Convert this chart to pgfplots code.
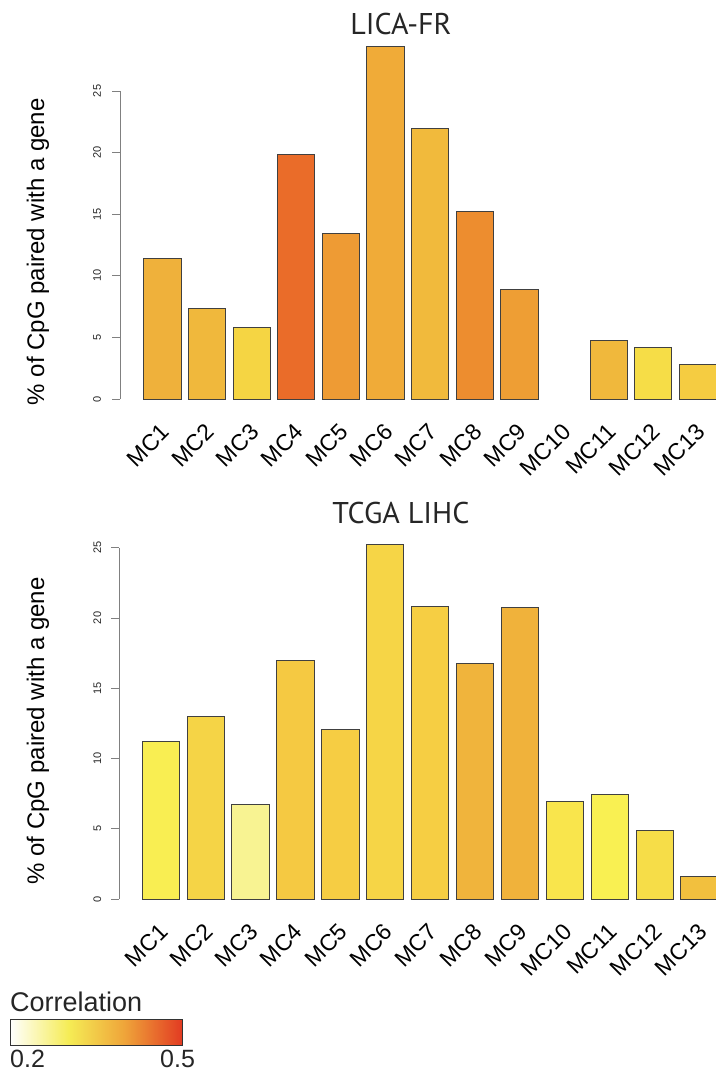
\documentclass[border=0pt]{standalone}
\usepackage{pgfplots}
\pgfplotsset{compat=1.18}
\usepackage{fontspec}
\setmainfont{Liberation Sans}
\newfontfamily\titlefont{PT Sans}

% top (LICA-FR) bar colours
\definecolor{ta}{HTML}{EFB13B}
\definecolor{tb}{HTML}{F0B83C}
\definecolor{tc}{HTML}{F5D543}
\definecolor{td}{HTML}{EA6C29}
\definecolor{te}{HTML}{EE9B34}
\definecolor{tf}{HTML}{F0AB38}
\definecolor{tg}{HTML}{F1BA3C}
\definecolor{th}{HTML}{ED8D2F}
\definecolor{ti}{HTML}{EE9E34}
\definecolor{tk}{HTML}{F0B83C}
\definecolor{tl}{HTML}{F6DD47}
\definecolor{tm}{HTML}{F5CC41}
% bottom (TCGA LIHC) bar colours
\definecolor{ba}{HTML}{F9EE52}
\definecolor{bb}{HTML}{F5D446}
\definecolor{bc}{HTML}{F8F392}
\definecolor{bd}{HTML}{F5C942}
\definecolor{be}{HTML}{F6CD43}
\definecolor{bf}{HTML}{F6D546}
\definecolor{bg}{HTML}{F6CE43}
\definecolor{bh}{HTML}{F0B43C}
\definecolor{bi}{HTML}{F0B23B}
\definecolor{bj}{HTML}{F9E54C}
\definecolor{bk}{HTML}{F9F052}
\definecolor{bl}{HTML}{F6DD48}
\definecolor{bm}{HTML}{F2C03E}
% colour bar
\definecolor{cbY}{HTML}{F5EC55}
\definecolor{cbO}{HTML}{EFA53A}
\definecolor{cbR}{HTML}{E23A22}
\pgfdeclarehorizontalshading{corr}{100bp}{color(0bp)=(white); color(25bp)=(white); color(42bp)=(cbY); color(58bp)=(cbO); color(75bp)=(cbR); color(100bp)=(cbR)}

\tikzset{ytl/.style={rotate=90, anchor=south, inner sep=0pt, text=black!85, font=\fontsize{11}{11}\selectfont}}

\pgfplotsset{
  mcaxis/.style={
    scale only axis,
    clip=false,
    axis line style={draw=none},
    xtick={1.07,2.07,3.07,4.07,5.07,6.07,7.07,8.07,9.07,10.07,11.07,12.07,13.07},
    xticklabels={MC1,MC2,MC3,MC4,MC5,MC6,MC7,MC8,MC9,MC10,MC11,MC12,MC13},
    xtick style={draw=none},
    xtick pos=bottom,
    xticklabel style={rotate=45, anchor=east, inner sep=0pt, font=\fontsize{23}{23}\selectfont},
    xticklabel shift=29pt,
    ytick=\empty,
    ylabel={\% of CpG paired with a gene},
    ylabel style={anchor=center, font=\fontsize{24}{24}\selectfont},
  },
  mcb/.style={ybar, bar width=37.3pt, fill=#1, draw=black!75, line width=0.9pt},
}

\begin{document}
\begin{tikzpicture}
\useasboundingbox (0pt,0pt) rectangle (715pt,1070pt);

% ---------------- LICA-FR ----------------
\begin{axis}[mcaxis,
  at={(120pt,671pt)}, anchor=south west,
  width=595pt, height=369.6pt,
  xmin=0.051, xmax=13.383, ymin=0, ymax=30,
  ylabel style={at={(axis description cs:-0.1378,0.398)}},
]
\addplot[mcb=ta] coordinates {(1,11.42)};
\addplot[mcb=tb] coordinates {(2,7.36)};
\addplot[mcb=tc] coordinates {(3,5.82)};
\addplot[mcb=td] coordinates {(4,19.81)};
\addplot[mcb=te] coordinates {(5,13.45)};
\addplot[mcb=tf] coordinates {(6,28.65)};
\addplot[mcb=tg] coordinates {(7,21.97)};
\addplot[mcb=th] coordinates {(8,15.2)};
\addplot[mcb=ti] coordinates {(9,8.9)};
\addplot[mcb=tk] coordinates {(11,4.79)};
\addplot[mcb=tl] coordinates {(12,4.2)};
\addplot[mcb=tm] coordinates {(13,2.8)};
\draw[gray, line width=0.9pt] (axis cs:0.051,0) -- (axis cs:0.051,25);
\pgfplotsinvokeforeach{0,5,10,15,20,25}{
  \draw[gray, line width=0.9pt] (axis cs:0.051,#1) -- ++(-8pt,0pt);
  \node[ytl] at (axis cs:-0.368,#1) {#1};
}
\end{axis}
\node[anchor=base, inner sep=0pt, font=\titlefont\fontsize{30}{30}\selectfont, text=black!85] at (401pt,1035pt) {LICA-FR};

% ---------------- TCGA LIHC ----------------
\begin{axis}[mcaxis,
  at={(119pt,171pt)}, anchor=south west,
  width=596pt, height=365.35pt,
  xmin=0.0713, xmax=13.345, ymin=0, ymax=26,
  ylabel style={at={(axis description cs:-0.136,0.46)}},
]
\addplot[mcb=ba] coordinates {(1,11.24)};
\addplot[mcb=bb] coordinates {(2,13.0)};
\addplot[mcb=bc] coordinates {(3,6.74)};
\addplot[mcb=bd] coordinates {(4,16.96)};
\addplot[mcb=be] coordinates {(5,12.1)};
\addplot[mcb=bf] coordinates {(6,25.25)};
\addplot[mcb=bg] coordinates {(7,20.85)};
\addplot[mcb=bh] coordinates {(8,16.73)};
\addplot[mcb=bi] coordinates {(9,20.78)};
\addplot[mcb=bj] coordinates {(10,6.95)};
\addplot[mcb=bk] coordinates {(11,7.42)};
\addplot[mcb=bl] coordinates {(12,4.89)};
\addplot[mcb=bm] coordinates {(13,1.59)};
\draw[gray, line width=0.9pt] (axis cs:0.0713,0) -- (axis cs:0.0713,25);
\pgfplotsinvokeforeach{0,5,10,15,20,25}{
  \draw[gray, line width=0.9pt] (axis cs:0.0713,#1) -- ++(-8pt,0pt);
  \node[ytl] at (axis cs:-0.319,#1) {#1};
}
\end{axis}
\node[anchor=base, inner sep=0pt, font=\titlefont\fontsize{30}{30}\selectfont, text=black!85] at (401pt,546.7pt) {TCGA LIHC};

% ---------------- colour key ----------------
\node[anchor=base west, inner sep=0pt, font=\fontsize{27}{27}\selectfont, text=black!85] at (10pt,58.3pt) {Correlation};
\shade[shading=corr] (10pt,25pt) rectangle (182.7pt,50.7pt);
\draw[black!80, line width=0.8pt] (10pt,25pt) rectangle (182.7pt,50.7pt);
\node[anchor=base west, inner sep=0pt, font=\fontsize{25}{25}\selectfont, text=black!85] at (10pt,2.5pt) {0.2};
\node[anchor=base west, inner sep=0pt, font=\fontsize{25}{25}\selectfont, text=black!85] at (160pt,2.5pt) {0.5};
\end{tikzpicture}
\end{document}
